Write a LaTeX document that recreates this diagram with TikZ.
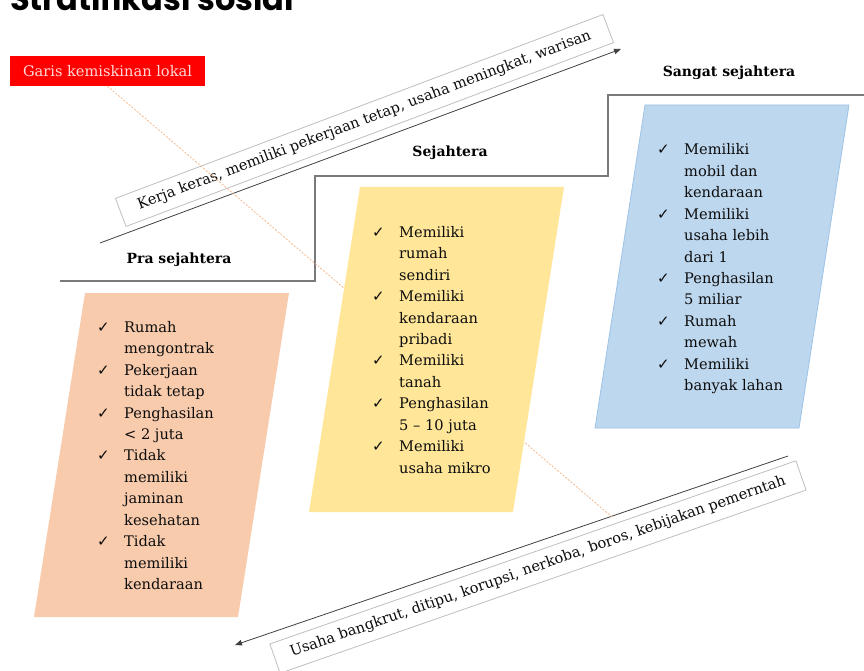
\documentclass[tikz,border=0pt]{standalone}
\usepackage{fontspec}
\setmainfont{DejaVu Serif}
\newfontfamily\titlef{Poppins}
\newfontfamily\symf{DejaVu Sans}
\usetikzlibrary{arrows.meta}
\definecolor{orfill}{HTML}{F8CBAD}
\definecolor{yefill}{HTML}{FFE699}
\definecolor{blfill}{HTML}{BDD7EE}
\definecolor{bledge}{HTML}{9DC3E6}
\definecolor{dashc}{HTML}{F4B183}
\definecolor{redbox}{HTML}{FF0000}
\definecolor{redtext}{HTML}{FFD9D9}
\newcommand\ck{\makebox[27pt][l]{\symf\fontsize{15}{15}\selectfont ✓}}
\newcommand\ind{\hspace*{27pt}}
\tikzset{
  lst/.style={align=left, inner sep=0pt, anchor=north west, font=\fontsize{14.6}{21.45}\selectfont, text=black!95},
  lbl/.style={font=\bfseries\fontsize{14}{16}\selectfont, inner sep=0pt, text=black},
  tbox/.style={draw=black!25, line width=0.8pt, fill=white, inner sep=0pt, font=\fontsize{14.6}{16}\selectfont, text=black!95},
  arr/.style={draw=black!75, line width=0.8pt, -{Triangle[length=7pt,width=5.5pt]}},
  stepline/.style={draw=black!52, line width=1.4pt},
  dline/.style={draw=dashc, dash pattern=on 2pt off 1.5pt, line width=0.7pt},
}
\begin{document}
\begin{tikzpicture}[x=1pt,y=-1pt]
\useasboundingbox (0,0) rectangle (864,671);
\clip (0,0) rectangle (864,671);
% title (cut off at the top)
\node[anchor=base west, inner sep=0pt, font=\titlef\bfseries\fontsize{32}{32}\selectfont] (title) at (10,11) {Stratifikasi sosial};
% step lines
\draw[stepline] (60,281) -- (315,281) -- (315,176) -- (608,176) -- (608,95) -- (864,95);
% arrows
\coordinate (u1) at (100,243);
\coordinate (u2) at (621,49);
\coordinate (l1) at (788,456);
\coordinate (l2) at (235,645);
\draw[arr] (u1) -- (u2);
\draw[arr] (l1) -- (l2);
% text boxes
\node[tbox, rotate=20.66, minimum width=521pt, minimum height=30pt] (up) at (364.5,120.5) {Kerja keras, memiliki pekerjaan tetap, usaha meningkat, warisan};
\node[tbox, rotate=19.2, minimum width=557pt, minimum height=31pt] (down) at (538,567) {Usaha bangkrut, ditipu, korupsi, nerkoba, boros, kebijakan pemerntah};
% red label
\node[fill=redbox, text=redtext, minimum width=195pt, minimum height=30pt, inner sep=0pt, font=\fontsize{14.6}{16}\selectfont] (gk) at (107.5,71) {Garis kemiskinan lokal};
\coordinate (dend) at (612,517);
\draw[dline] (gk.south) -- (dend);
% coloured boxes
\fill[orfill] (85,293) -- (289,293) -- (238,617) -- (34,617) -- cycle;
\fill[yefill] (360,187) -- (564,187) -- (513,512) -- (309,512) -- cycle;
\filldraw[fill=blfill, draw=bledge, line width=0.8pt] (645,105) -- (849,105) -- (799,428) -- (595,428) -- cycle;
% lists
\node[lst] (olist) at (97,321) {\ck Rumah\\\ind mengontrak\\\ck Pekerjaan\\\ind tidak tetap\\\ck Penghasilan\\\ind < 2 juta\\\ck Tidak\\\ind memiliki\\\ind jaminan\\\ind kesehatan\\\ck Tidak\\\ind memiliki\\\ind kendaraan};
\node[lst] (ylist) at (372,226) {\ck Memiliki\\\ind rumah\\\ind sendiri\\\ck Memiliki\\\ind kendaraan\\\ind pribadi\\\ck Memiliki\\\ind tanah\\\ck Penghasilan\\\ind 5 – 10 juta\\\ck Memiliki\\\ind usaha mikro};
\node[lst] (blist) at (657,143.5) {\ck Memiliki\\\ind mobil dan\\\ind kendaraan\\\ck Memiliki\\\ind usaha lebih\\\ind dari 1\\\ck Penghasilan\\\ind 5 miliar\\\ck Rumah\\\ind mewah\\\ck Memiliki\\\ind banyak lahan};
% level labels
\node[lbl] (pra) at (179,260) {Pra sejahtera};
\node[lbl] (sej) at (450,153) {Sejahtera};
\node[lbl] (sang) at (729,73) {Sangat sejahtera};
\end{tikzpicture}
\end{document}
